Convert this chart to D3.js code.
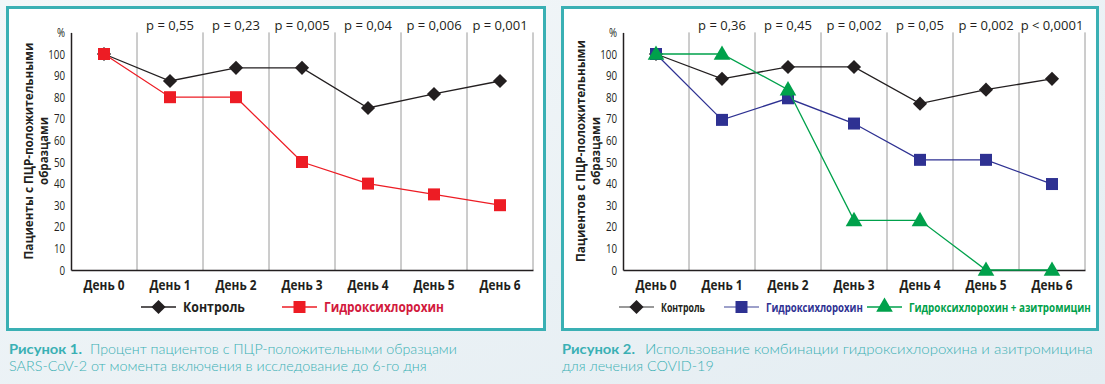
<!DOCTYPE html>
<html>
<head>
<meta charset="utf-8">
<script src="https://cdn.jsdelivr.net/npm/d3@7"></script>
<style>
  body { margin: 0; background: #eef4f7; }
  svg { display: block; }
</style>
</head>
<body>
<svg width="1105" height="384"></svg>
<script>
// categories and tick labels
var days = ["День 0", "День 1", "День 2", "День 3", "День 4", "День 5", "День 6"];
var yTicks = [0, 10, 20, 30, 40, 50, 60, 70, 80, 90, 100];

// figure 1
var pvals1 = ["p = 0,55", "p = 0,23", "p = 0,005", "p = 0,04", "p = 0,006", "p = 0,001"];
var control1 = [100, 87.5, 93.6, 93.6, 75, 81.5, 87.5];
var hcq1 = [100, 80, 80, 50, 40, 35, 30];

// figure 2
var pvals2 = ["p = 0,36", "p = 0,45", "p = 0,002", "p = 0,05", "p = 0,002", "p < 0,0001"];
var control2 = [100, 88.5, 94, 94, 77, 83.5, 88.5];
var hcq2 = [100, 69.5, 79.5, 67.8, 51, 51, 39.8];
var hcqAzi2 = [100, 100, 83.5, 23, 23, 0, 0];

var svg = d3.select("svg");

// soft backdrop
var defs = svg.append("defs");
var grad = defs.append("linearGradient").attr("id", "bg").attr("x1", 0).attr("x2", 1).attr("y1", 0).attr("y2", 1);
grad.append("stop").attr("offset", "0%").attr("stop-color", "#f3f7f9");
grad.append("stop").attr("offset", "100%").attr("stop-color", "#e4edf2");
svg.append("rect").attr("width", 1105).attr("height", 384).attr("fill", "url(#bg)");

var teal = "#3ab0b4";
var sans = "'Open Sans', 'Noto Sans', sans-serif";

function symbolFor(shape) {
    if (shape == "diamond") return d3.symbol().type(d3.symbolSquare).size(100)();
    if (shape == "square") return d3.symbol().type(d3.symbolSquare).size(144)();
    return d3.symbol().type(d3.symbolTriangle).size(120)();
}

// squeeze text horizontally to a given width (the original uses a condensed face)
function fit(sel, len) {
    sel.each(function () {
        var t = d3.select(this);
        var w = this.getComputedTextLength();
        var k = len / w;
        var x = +t.attr("x") || 0, y = +t.attr("y") || 0;
        t.attr("x", 0).attr("y", 0)
            .attr("transform", "translate(" + x + "," + y + ") scale(" + k + ",1)");
    });
}

function drawPanel(cfg) {
    var g = svg.append("g").attr("transform", "translate(" + cfg.left + ",0)");

    // frame
    g.append("rect")
        .attr("x", 1.5).attr("y", 7.5)
        .attr("width", cfg.w).attr("height", 322)
        .attr("fill", "#fff").attr("stroke", teal).attr("stroke-width", 3);

    var x = d3.scaleBand().domain(days).range([cfg.x0, cfg.x1]);
    var y = d3.scaleLinear().domain([0, 110]).range([270, 32.4]);

    // vertical grid lines
    g.append("g").selectAll("line")
        .data(days)
        .enter().append("line")
        .attr("x1", function (d) { return x(d) + x.bandwidth(); })
        .attr("x2", function (d) { return x(d) + x.bandwidth(); })
        .attr("y1", y(110)).attr("y2", y(0))
        .attr("stroke", "#9a9a9a").attr("stroke-width", 1);

    // y axis
    var yAxis = g.append("g")
        .attr("transform", "translate(" + cfg.x0 + ",0)")
        .call(d3.axisLeft(y).tickValues(yTicks).tickSize(0).tickPadding(6));
    yAxis.select(".domain").attr("stroke", "#231f20").attr("stroke-width", 1.5);
    yAxis.selectAll("text")
        .attr("x", -6 / 0.78)
        .attr("transform", "scale(0.78,1)")
        .style("font-family", sans)
        .style("font-size", "12.5px").attr("fill", "#231f20");
    g.append("text")
        .attr("transform", "translate(" + (cfg.x0 - 6) + "," + (y(110) + 5) + ") scale(0.78,1)")
        .attr("text-anchor", "end")
        .style("font-family", sans)
        .style("font-size", "12.5px").attr("fill", "#231f20")
        .text("%");

    // x axis
    var xAxis = g.append("g")
        .attr("transform", "translate(0,270)")
        .call(d3.axisBottom(x).tickSize(0).tickPadding(10));
    xAxis.select(".domain").attr("stroke", "#231f20").attr("stroke-width", 1.5);
    xAxis.selectAll("text")
        .style("font-family", sans)
        .style("font-size", "14px").style("font-weight", "bold").attr("fill", "#231f20")
        .call(fit, 41);

    // p values
    g.append("g").selectAll("text")
        .data(cfg.pvals)
        .enter().append("text")
        .attr("x", function (d, i) { return x(days[i + 1]) + x.bandwidth() / 2; })
        .attr("y", 30)
        .attr("text-anchor", "middle")
        .style("font-family", sans)
        .style("font-size", "13px").attr("fill", "#231f20")
        .text(function (d) { return d; });

    // y label, two lines
    var lab = g.append("g")
        .attr("transform", "translate(" + cfg.labX + ",151) rotate(-90)")
        .style("font-family", sans)
        .style("font-weight", "bold").style("font-size", "13px")
        .attr("fill", "#231f20");
    lab.append("text").attr("text-anchor", "middle").attr("y", 0)
        .text(cfg.ylabel[0]).call(fit, cfg.labLen[0]);
    lab.append("text").attr("text-anchor", "middle").attr("y", 15)
        .text(cfg.ylabel[1]).call(fit, cfg.labLen[1]);

    var line = d3.line()
        .x(function (d, i) { return x(days[i]) + x.bandwidth() / 2; })
        .y(function (d) { return y(d); });

    // series (drawn in order so the first sits at the back)
    cfg.series.forEach(function (s) {
        var sg = g.append("g");
        sg.append("path")
            .datum(s.values)
            .attr("d", line)
            .attr("fill", "none").attr("stroke", s.color).attr("stroke-width", 1.3);
        sg.selectAll("path.pt")
            .data(s.values)
            .enter().append("path")
            .attr("class", "pt")
            .attr("d", symbolFor(s.shape))
            .attr("transform", function (d, i) {
                var t = "translate(" + (x(days[i]) + x.bandwidth() / 2) + "," + y(d) + ")";
                if (s.shape == "diamond") t += " rotate(45)";
                if (s.shape == "triangle") t += " translate(0,1)";
                return t;
            })
            .attr("fill", s.color);
    });

    // legend
    cfg.series.forEach(function (s) {
        var lg = g.append("g").attr("transform", "translate(" + s.legX + ",307)");
        lg.append("line")
            .attr("x1", 0).attr("x2", 35).attr("y1", 0).attr("y2", 0)
            .attr("stroke", s.legLine).attr("stroke-width", 1.5);
        lg.append("path")
            .attr("d", symbolFor(s.shape))
            .attr("transform", "translate(17.5,0)" + (s.shape == "diamond" ? " rotate(45)" : ""))
            .attr("fill", s.color);
        lg.append("text")
            .attr("x", 42).attr("y", 5)
            .style("font-family", sans)
            .style("font-size", cfg.legSize).style("font-weight", "bold")
            .attr("fill", s.textColor)
            .text(s.name)
            .call(fit, s.legLen);
    });

    // caption
    var capFont = "'Lato', 'Noto Sans', sans-serif";
    g.append("text")
        .attr("x", cfg.capX0).attr("y", 354)
        .style("font-family", capFont).style("font-weight", "bold")
        .style("font-size", "14px").attr("fill", teal)
        .text(cfg.caption[0]).call(fit, 73);
    g.append("text")
        .attr("x", cfg.capX).attr("y", 354)
        .style("font-family", capFont).style("font-weight", 300)
        .style("font-size", "14px").attr("fill", teal)
        .text(cfg.caption[1]).call(fit, cfg.capLen[0]);
    g.append("text")
        .attr("x", cfg.capX0).attr("y", 371)
        .style("font-family", capFont).style("font-weight", 300)
        .style("font-size", "14px").attr("fill", teal)
        .text(cfg.caption[2]).call(fit, cfg.capLen[1]);
}

drawPanel({
    left: 6, w: 537, x0: 65, x1: 527, labX: 27,
    labLen: [217, 68],
    pvals: pvals1,
    ylabel: ["Пациенты с ПЦР-положительными", "образцами"],
    legSize: "14px",
    series: [
        { name: "Контроль", values: control1, color: "#231f20", shape: "diamond", legX: 135, legLine: "#231f20", textColor: "#231f20", legLen: 62 },
        { name: "Гидроксихлорохин", values: hcq1, color: "#ed1c24", shape: "square", legX: 276, legLine: "#ed1c24", textColor: "#d2193c", legLen: 120 }
    ],
    capX0: 3, capX: 84, capLen: [367, 418],
    caption: ["Рисунок 1.", "Процент пациентов с ПЦР-положительными образцами",
        "SARS-CoV-2 от момента включения в исследование до 6-го дня"]
});

drawPanel({
    left: 561, w: 535, x0: 62, x1: 524, labX: 24,
    labLen: [222, 68],
    pvals: pvals2,
    ylabel: ["Пациентов с ПЦР-положительными", "образцами"],
    legSize: "13px",
    series: [
        { name: "Контроль", values: control2, color: "#231f20", shape: "diamond", legX: 58, legLine: "#777", textColor: "#231f20", legLen: 44 },
        { name: "Гидроксихлорохин", values: hcq2, color: "#2e3192", shape: "square", legX: 163, legLine: "#7d80b8", textColor: "#2e3192", legLen: 97 },
        { name: "Гидроксихлорохин + азитромицин", values: hcqAzi2, color: "#00a14b", shape: "triangle", legX: 306, legLine: "#00a14b", textColor: "#00a14b", legLen: 182 }
    ],
    capX0: 1, capX: 84, capLen: [448, 152],
    caption: ["Рисунок 2.", "Использование комбинации гидроксихлорохина и азитромицина",
        "для лечения COVID-19"]
});
</script>
</body>
</html>
